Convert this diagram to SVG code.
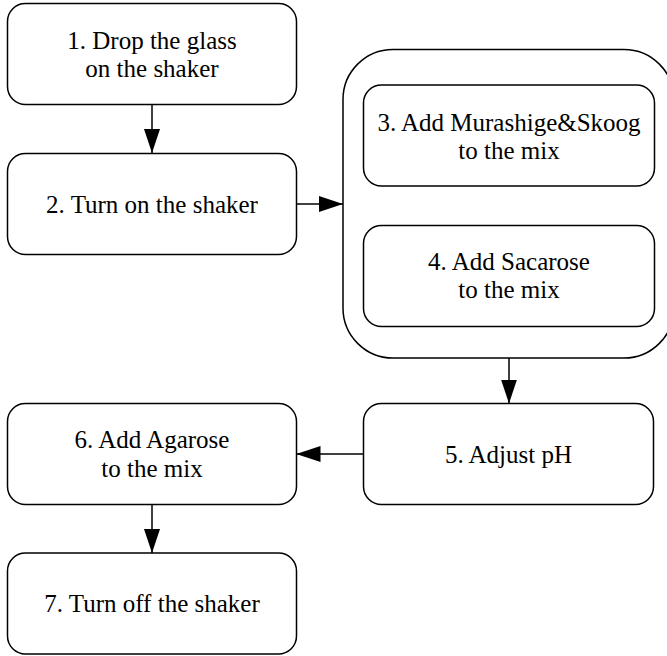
<svg xmlns="http://www.w3.org/2000/svg" width="667" height="656" viewBox="0 0 667 656">
<style>
.box{fill:#fff;stroke:#000;stroke-width:1.5}
.t{font-size:25px;fill:#000;text-anchor:middle}
.c{stroke:#000;stroke-width:1.5;fill:none;marker-end:url(#ah)}
</style>
<defs>
<marker id="ah" markerUnits="userSpaceOnUse" viewBox="0 0 24 16" refX="24" refY="8" markerWidth="24" markerHeight="16" orient="auto">
<path d="M0,0 L24,8 L0,16 z" fill="#000"/>
</marker>
</defs>
<rect width="667" height="656" fill="#fff"/>
<g id="group">
<rect class="box" x="343" y="49.5" width="331" height="308.5" rx="50"/>
</g>
<g font-family="'Liberation Serif', 'Times New Roman', serif">
<g id="n1">
<rect class="box" x="7.5" y="3.5" width="289" height="101" rx="18"/>
<text class="t" x="152" y="49">1. Drop the glass</text>
<text class="t" x="152" y="77">on the shaker</text>
</g>
<g id="n2">
<rect class="box" x="7.5" y="153.5" width="289" height="101" rx="18"/>
<text class="t" x="152" y="213">2. Turn on the shaker</text>
</g>
<g id="n3">
<rect class="box" x="363.5" y="85" width="291" height="101" rx="18"/>
<text class="t" x="509" y="130.5">3. Add Murashige&amp;Skoog</text>
<text class="t" x="509" y="159">to the mix</text>
</g>
<g id="n4">
<rect class="box" x="363.5" y="225.5" width="291" height="101" rx="18"/>
<text class="t" x="509" y="270">4. Add Sacarose</text>
<text class="t" x="509" y="298">to the mix</text>
</g>
<g id="n5">
<rect class="box" x="363.5" y="403.5" width="290" height="101" rx="18"/>
<text class="t" x="508.5" y="463">5. Adjust pH</text>
</g>
<g id="n6">
<rect class="box" x="7.5" y="403.5" width="289" height="101" rx="18"/>
<text class="t" x="152" y="448">6. Add Agarose</text>
<text class="t" x="152" y="477">to the mix</text>
</g>
<g id="n7">
<rect class="box" x="7.5" y="553" width="289" height="101" rx="18"/>
<text class="t" x="152" y="612">7. Turn off the shaker</text>
</g>
</g>
<g id="connectors">
<line class="c" x1="152" y1="104.5" x2="152" y2="153"/>
<line class="c" x1="296.5" y1="204" x2="343" y2="204"/>
<line class="c" x1="509" y1="358" x2="509" y2="403.5"/>
<line class="c" x1="363.5" y1="454" x2="296.5" y2="454"/>
<line class="c" x1="152" y1="504.5" x2="152" y2="553"/>
</g>
</svg>
